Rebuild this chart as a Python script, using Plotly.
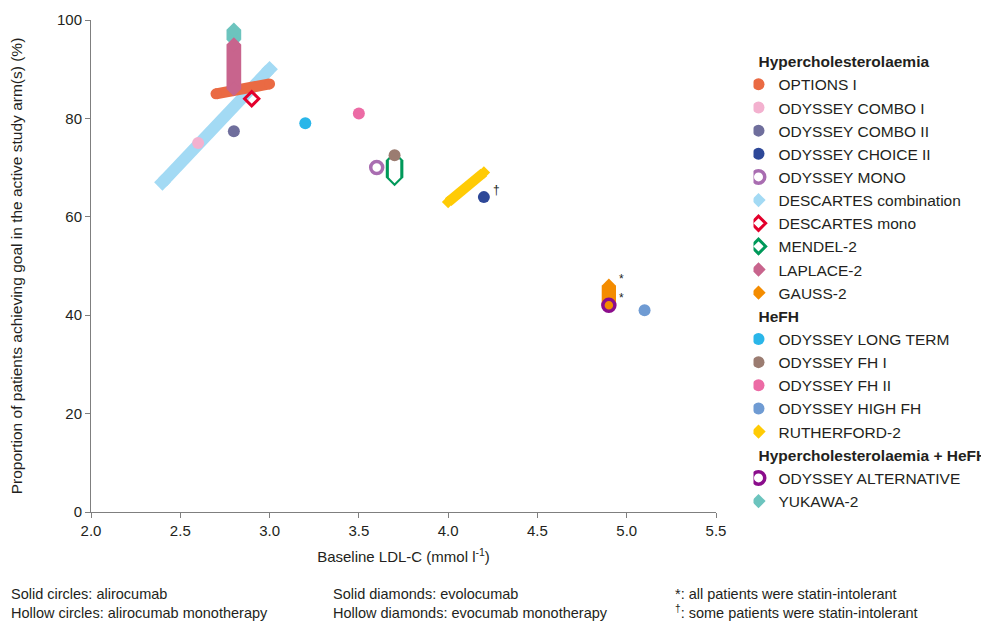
import plotly.graph_objects as go

# ---------------- data ----------------
OPTIONS_I_X = [2.7, 3.0]
OPTIONS_I_Y = [85, 87]
ODYSSEY_COMBO_I_X = [2.6]
ODYSSEY_COMBO_I_Y = [75]
ODYSSEY_COMBO_II_X = [2.8]
ODYSSEY_COMBO_II_Y = [77.4]
ODYSSEY_CHOICE_II_X = [4.2]
ODYSSEY_CHOICE_II_Y = [64]
ODYSSEY_MONO_X = [3.6]
ODYSSEY_MONO_Y = [70]
DESCARTES_COMB_X = [2.4, 3.0]
DESCARTES_COMB_Y = [67, 90]
DESCARTES_MONO_X = [2.9]
DESCARTES_MONO_Y = [84]
MENDEL2_X = [3.7, 3.7]
MENDEL2_Y = [68, 71.5]
LAPLACE2_X = [2.8, 2.8]
LAPLACE2_Y = [86, 95]
GAUSS2_X = [4.9, 4.9]
GAUSS2_Y = [42, 46]
ODYSSEY_LONG_TERM_X = [3.2]
ODYSSEY_LONG_TERM_Y = [79]
ODYSSEY_FH_I_X = [3.7]
ODYSSEY_FH_I_Y = [72.5]
ODYSSEY_FH_II_X = [3.5]
ODYSSEY_FH_II_Y = [81]
ODYSSEY_HIGH_FH_X = [5.1]
ODYSSEY_HIGH_FH_Y = [41]
RUTHERFORD2_X = [4.0, 4.2]
RUTHERFORD2_Y = [63, 69]
ODYSSEY_ALTERNATIVE_X = [4.9]
ODYSSEY_ALTERNATIVE_Y = [42]
YUKAWA2_X = [2.8, 2.8]
YUKAWA2_Y = [96, 98]

X_TICKS = [2.0, 2.5, 3.0, 3.5, 4.0, 4.5, 5.0, 5.5]
Y_TICKS = [0, 20, 40, 60, 80, 100]
GROUPS = ["Hypercholesterolaemia", "HeFH", "Hypercholesterolaemia + HeFH"]

FONT = "Liberation Sans, Arial, sans-serif"
TXT = "#231F20"

C = {
    "OPTIONS I": "#EA6A43",
    "ODYSSEY COMBO I": "#F3B1CF",
    "ODYSSEY COMBO II": "#6F6E9C",
    "ODYSSEY CHOICE II": "#2E4898",
    "ODYSSEY MONO": "#A96DB1",
    "DESCARTES combination": "#A3DAF4",
    "DESCARTES mono": "#E3002C",
    "MENDEL-2": "#00995A",
    "LAPLACE-2": "#C8648D",
    "GAUSS-2": "#F48C00",
    "ODYSSEY LONG TERM": "#2AB6E9",
    "ODYSSEY FH I": "#9B7C71",
    "ODYSSEY FH II": "#EC6BA5",
    "ODYSSEY HIGH FH": "#6F9BD3",
    "RUTHERFORD-2": "#FFCB05",
    "ODYSSEY ALTERNATIVE": "#8B0D8C",
    "YUKAWA-2": "#6CC4BE",
}

fig = go.Figure()


def band(x, y, color, width, symbol, msize, lw=0):
    """Thick band joining the arms of one study, with the study marker at each arm."""
    if len(x) > 1:
        fig.add_trace(go.Scatter(x=x, y=y, mode="lines", showlegend=False, hoverinfo="skip",
                                 line=dict(color=color, width=width)))
    fig.add_trace(go.Scatter(x=x, y=y, mode="markers", showlegend=False,
                             marker=dict(symbol=symbol, size=msize, color=color,
                                         line=dict(width=lw, color=color))))


# drawing order (bottom to top)
band(DESCARTES_COMB_X, DESCARTES_COMB_Y, C["DESCARTES combination"], 11.8, "diamond", 12.8)
band(OPTIONS_I_X, OPTIONS_I_Y, C["OPTIONS I"], 11, "circle", 11)
band(YUKAWA2_X, YUKAWA2_Y, C["YUKAWA-2"], 14.7, "diamond", 11.3)
band(LAPLACE2_X, LAPLACE2_Y, C["LAPLACE-2"], 14.7, "diamond", 11.3)
band(ODYSSEY_COMBO_I_X, ODYSSEY_COMBO_I_Y, C["ODYSSEY COMBO I"], 0, "circle", 12)
band(ODYSSEY_COMBO_II_X, ODYSSEY_COMBO_II_Y, C["ODYSSEY COMBO II"], 0, "circle", 12)
band(DESCARTES_MONO_X, DESCARTES_MONO_Y, C["DESCARTES mono"], 0, "diamond-open", 11, 3)
band(ODYSSEY_LONG_TERM_X, ODYSSEY_LONG_TERM_Y, C["ODYSSEY LONG TERM"], 0, "circle", 12)
band(ODYSSEY_FH_II_X, ODYSSEY_FH_II_Y, C["ODYSSEY FH II"], 0, "circle", 12)
band(ODYSSEY_MONO_X, ODYSSEY_MONO_Y, C["ODYSSEY MONO"], 0, "circle-open", 12, 3.5)
# hollow MENDEL-2 band: outer colour band then white interior
band(MENDEL2_X, MENDEL2_Y, C["MENDEL-2"], 17.6, "diamond", 13.5)
band(MENDEL2_X, MENDEL2_Y, "white", 11.4, "diamond", 8.8)
band(ODYSSEY_FH_I_X, ODYSSEY_FH_I_Y, C["ODYSSEY FH I"], 0, "circle", 12)
band(RUTHERFORD2_X, RUTHERFORD2_Y, C["RUTHERFORD-2"], 10, "diamond", 9.6)
band(ODYSSEY_CHOICE_II_X, ODYSSEY_CHOICE_II_Y, C["ODYSSEY CHOICE II"], 0, "circle", 12)
band(GAUSS2_X, GAUSS2_Y, C["GAUSS-2"], 14.3, "diamond", 11)
band(ODYSSEY_ALTERNATIVE_X, ODYSSEY_ALTERNATIVE_Y, C["ODYSSEY ALTERNATIVE"], 0, "circle-open", 12, 3.5)
band(ODYSSEY_HIGH_FH_X, ODYSSEY_HIGH_FH_Y, C["ODYSSEY HIGH FH"], 0, "circle", 12)

# legend entries (legend order)
LEGEND = [
    (GROUPS[0], "OPTIONS I", "circle", 12, 0),
    (GROUPS[0], "ODYSSEY COMBO I", "circle", 12, 0),
    (GROUPS[0], "ODYSSEY COMBO II", "circle", 12, 0),
    (GROUPS[0], "ODYSSEY CHOICE II", "circle", 12, 0),
    (GROUPS[0], "ODYSSEY MONO", "circle-open", 12.5, 3.5),
    (GROUPS[0], "DESCARTES combination", "diamond", 11, 0),
    (GROUPS[0], "DESCARTES mono", "diamond-open", 11, 3),
    (GROUPS[0], "MENDEL-2", "diamond-open", 11, 3),
    (GROUPS[0], "LAPLACE-2", "diamond", 11, 0),
    (GROUPS[0], "GAUSS-2", "diamond", 11, 0),
    (GROUPS[1], "ODYSSEY LONG TERM", "circle", 12, 0),
    (GROUPS[1], "ODYSSEY FH I", "circle", 12, 0),
    (GROUPS[1], "ODYSSEY FH II", "circle", 12, 0),
    (GROUPS[1], "ODYSSEY HIGH FH", "circle", 12, 0),
    (GROUPS[1], "RUTHERFORD-2", "diamond", 11, 0),
    (GROUPS[2], "ODYSSEY ALTERNATIVE", "circle-open", 12.5, 3.5),
    (GROUPS[2], "YUKAWA-2", "diamond", 11, 0),
]
for grp, name, sym, size, lw in LEGEND:
    fig.add_trace(go.Scatter(
        x=[None], y=[None], mode="markers", name=name, legendgroup=grp,
        legendgrouptitle=dict(text=f"<b>{grp}</b>", font=dict(size=15.5, color=TXT, family=FONT)),
        marker=dict(symbol=sym, size=size, color=C[name], line=dict(width=lw, color=C[name])),
    ))

# footnote marks next to points
for x, y, mark in [(GAUSS2_X[1], GAUSS2_Y[1], "*"),
                   (ODYSSEY_ALTERNATIVE_X[0], ODYSSEY_ALTERNATIVE_Y[0], "*"),
                   (ODYSSEY_CHOICE_II_X[0], ODYSSEY_CHOICE_II_Y[0], "†")]:
    fig.add_annotation(x=x, y=y, text=mark, showarrow=False, xshift=13, yshift=7,
                       font=dict(size=12, color=TXT, family=FONT))

# explanatory notes below the chart
NOTES = [
    (-0.1312, "Solid circles: alirocumab<br>Hollow circles: alirocumab monotherapy"),
    (0.384, "Solid diamonds: evolocumab<br>Hollow diamonds: evocumab monotherapy"),
    (0.9312, "*: all patients were statin-intolerant<br><sup>†</sup>: some patients were statin-intolerant"),
]
for xp, txt in NOTES:
    fig.add_annotation(xref="paper", yref="paper", x=xp, y=-0.185, text=txt, showarrow=False,
                       xanchor="left", yanchor="middle", align="left",
                       font=dict(size=14.5, color=TXT, family=FONT))

axis_common = dict(showline=True, linecolor="#7F7F7F", linewidth=1, ticks="outside", ticklen=5,
                   tickcolor="#7F7F7F", showgrid=False, zeroline=False, automargin=False,
                   tickfont=dict(size=15, color=TXT, family=FONT))

# the page body adds an 8 px offset, so margins are set 8 px smaller on the top/left
fig.update_layout(
    width=989, height=621,
    margin=dict(l=83, r=281, t=12, b=117, autoexpand=False),
    paper_bgcolor="white", plot_bgcolor="white",
    font=dict(family=FONT, color=TXT),
    xaxis=dict(range=[2.0, 5.5], tickvals=X_TICKS, tickformat=".1f",
               title=dict(text="Baseline LDL-C (mmol l<sup>-1</sup>)", font=dict(size=15, color=TXT, family=FONT), standoff=13),
               **axis_common),
    yaxis=dict(range=[0, 100], tickvals=Y_TICKS,
               title=dict(text="Proportion of patients achieving goal in the active study arm(s) (%)",
                          font=dict(size=15.5, color=TXT, family=FONT), standoff=31),
               **axis_common),
    legend=dict(x=1.06, y=0.95, xanchor="left", yanchor="top", tracegroupgap=0, indentation=-15,
                font=dict(size=15.5, color=TXT, family=FONT), bgcolor="rgba(0,0,0,0)"),
    showlegend=True,
)

fig.write_html("out.html")
